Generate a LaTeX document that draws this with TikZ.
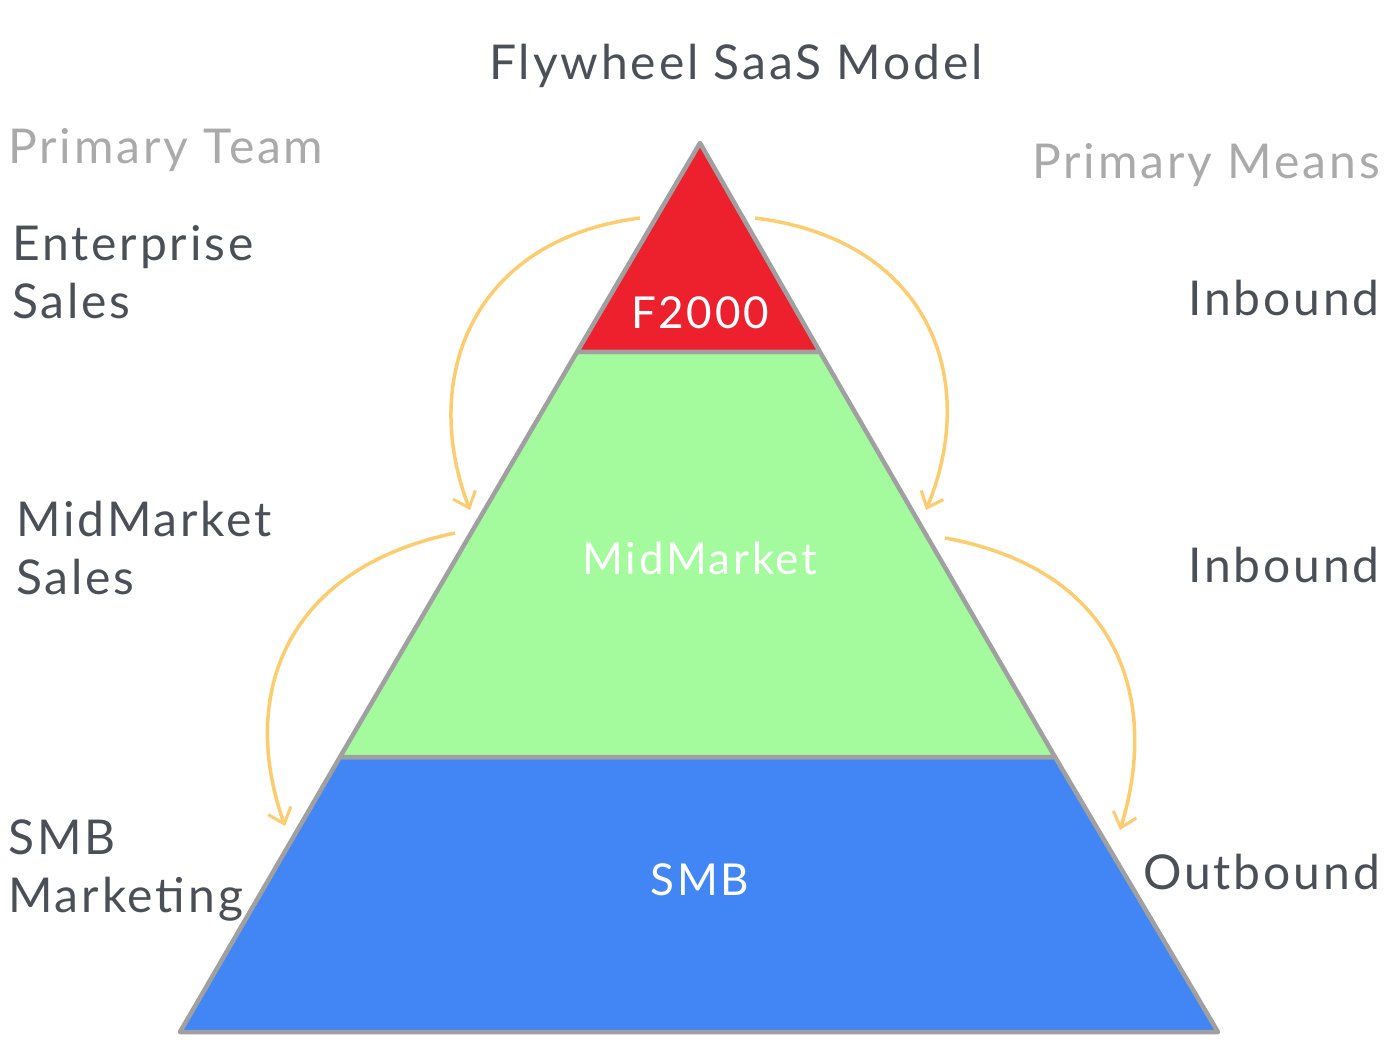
\documentclass[tikz,border=0pt]{standalone}
\usepackage{fontspec}
\setmainfont{Lato}[LetterSpace=6]
\usetikzlibrary{arrows.meta}
\definecolor{txt}{RGB}{75,80,88}
\definecolor{gry}{RGB}{170,170,170}
\definecolor{edge}{RGB}{160,160,160}
\definecolor{redf}{RGB}{237,32,45}
\definecolor{grnf}{RGB}{164,251,158}
\definecolor{bluf}{RGB}{66,133,244}
\definecolor{arr}{RGB}{253,204,110}
\begin{document}
\begin{tikzpicture}[x=1pt,y=-1pt,
  layer/.style={draw=edge,line width=4.5pt,line join=round},
  lab/.style={font=\fontsize{48}{58}\selectfont,text=txt,align=left,anchor=west,inner sep=0pt},
  labr/.style={font=\fontsize{48}{58}\selectfont,text=txt,anchor=east,inner sep=0pt},
  inlab/.style={font=\fontsize{44}{48}\selectfont,text=white,inner sep=0pt},
  flow/.style={draw=arr,line width=3.5pt,-{Straight Barb[length=14pt,width=24pt,line width=3pt]}}]
\useasboundingbox (0,0) rectangle (1400,1048);
\fill[white] (0,0) rectangle (1400,1048);
\coordinate (apex) at (700,143);
\coordinate (t1l) at (577,352); \coordinate (t1r) at (820,352);
\coordinate (t2l) at (340,757); \coordinate (t2r) at (1055,757);
\coordinate (bl) at (180,1032); \coordinate (br) at (1218,1032);
\draw[layer,fill=bluf] (t2l) -- (t2r) -- (br) -- (bl) -- cycle;
\draw[layer,fill=grnf] (t1l) -- (t1r) -- (t2r) -- (t2l) -- cycle;
\draw[layer,fill=redf] (apex) -- (t1r) -- (t1l) -- cycle;
\node[inlab] (f2000) at (700,313) {F2000};
\node[inlab] (mid) at (700,558) {MidMarket};
\node[inlab] (smb) at (700,880) {SMB};
\node[font=\fontsize{48}{50}\selectfont,text=txt,inner sep=0pt] (title) at (736,66) {Flywheel SaaS Model};
\node[lab,text=gry] (pt) at (8,150) {Primary Team};
\node[labr,text=gry] (pm) at (1380,165) {Primary Means};
\node[lab] (ent) at (12,272) {Enterprise\\Sales};
\node[lab] (mms) at (16,548) {MidMarket\\Sales};
\node[lab] (smbm) at (8,870) {SMB\\Marketing};
\node[labr] (in1) at (1380,298) {Inbound};
\node[labr] (in2) at (1380,565) {Inbound};
\node[labr] (out) at (1380,872) {Outbound};
\coordinate (a1s) at (640,218); \coordinate (a1e) at (470,510);
\coordinate (a2s) at (755,218); \coordinate (a2e) at (926,510);
\coordinate (a3s) at (455,533); \coordinate (a3e) at (285,826);
\coordinate (a4s) at (945,538); \coordinate (a4e) at (1120,830);
\draw[flow] (a1s) .. controls (470,240) and (420,380) .. (a1e);
\draw[flow] (a2s) .. controls (930,240) and (980,380) .. (a2e);
\draw[flow] (a3s) .. controls (280,570) and (240,700) .. (a3e);
\draw[flow] (a4s) .. controls (1120,570) and (1160,700) .. (a4e);
\end{tikzpicture}
\end{document}
